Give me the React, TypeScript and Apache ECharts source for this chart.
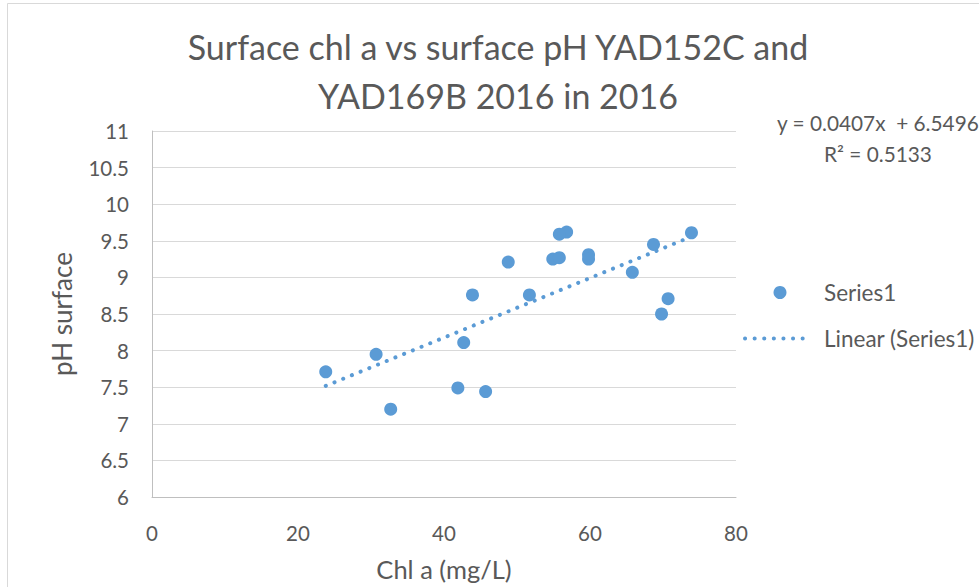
import React, { useEffect, useRef } from "react";
import * as echarts from "echarts";

// Surface chlorophyll a (mg/L) and surface pH
const chlA = [56.8, 55.8, 73.9, 68.7, 48.8, 54.9, 55.8, 59.8, 59.8, 65.8, 51.7, 43.9, 70.7, 69.8, 42.7, 41.9, 45.7, 23.8, 30.7, 32.7];
const pH = [9.62, 9.59, 9.61, 9.45, 9.21, 9.25, 9.27, 9.31, 9.25, 9.07, 8.76, 8.76, 8.71, 8.5, 8.11, 7.49, 7.44, 7.71, 7.95, 7.2];

const trendSlope = 0.0407;
const trendIntercept = 6.5496;
const rSquared = "0.5133";

const titleText = "Surface chl a vs surface pH YAD152C and\nYAD169B 2016 in 2016";
const seriesName = "Series1";
const trendName = "Linear (Series1)";

const FONT = "Lato, 'Liberation Sans', sans-serif";
const TXT = "#595959";
const BLUE = "#5b9bd5";

export default function App() {
  const ref = useRef<HTMLDivElement>(null);
  useEffect(() => {
    const chart = echarts.init(ref.current!, null, { renderer: "svg" });
    const points = chlA.map((x, i) => [x, pH[i]]);
    const xMin = Math.min(...chlA);
    const xMax = Math.max(...chlA);
    const trend = [
      [xMin, trendSlope * xMin + trendIntercept],
      [xMax, trendSlope * xMax + trendIntercept],
    ];
    chart.setOption({
      animation: false,
      textStyle: { fontFamily: FONT },
      title: {
        text: titleText,
        left: 498,
        top: 22,
        padding: 0,
        textAlign: "center",
        textStyle: { fontFamily: FONT, fontSize: 34, fontWeight: "normal", color: TXT, lineHeight: 49 },
      },
      grid: { left: 152, right: 243, top: 131, bottom: 90 },
      xAxis: {
        type: "value",
        min: 0,
        max: 80,
        interval: 20,
        name: "Chl a (mg/L)",
        nameLocation: "middle",
        nameGap: 59,
        nameTextStyle: { fontFamily: FONT, fontSize: 25.5, color: TXT },
        axisLine: { show: true, lineStyle: { color: "#bfbfbf", width: 1 } },
        axisTick: { show: false },
        axisLabel: { margin: 25, fontFamily: FONT, fontSize: 20.5, color: TXT },
        splitLine: { show: false },
      },
      yAxis: {
        type: "value",
        min: 6,
        max: 11,
        interval: 0.5,
        name: "pH surface",
        nameLocation: "middle",
        nameGap: 77,
        nameRotate: 90,
        nameTextStyle: { fontFamily: FONT, fontSize: 26, color: TXT },
        axisLine: { show: true, lineStyle: { color: "#bfbfbf", width: 1 } },
        axisTick: { show: false },
        axisLabel: { margin: 23, fontFamily: FONT, fontSize: 20.5, color: TXT },
        splitLine: { show: true, lineStyle: { color: "#d9d9d9", width: 1 } },
      },
      series: [
        {
          name: seriesName,
          type: "scatter",
          data: points,
          symbol: "circle",
          symbolSize: 13,
          itemStyle: { color: BLUE, opacity: 1 },
          z: 3,
        },
        {
          name: trendName,
          type: "line",
          data: trend,
          symbol: "none",
          lineStyle: { color: BLUE, width: 4, type: [0.1, 9.3], cap: "round" },
          z: 2,
        },
      ],
      graphic: [
        {
          type: "rect",
          shape: { x: 7.5, y: 3.5, width: 1000, height: 1000 },
          style: { fill: "none", stroke: "#d9d9d9", lineWidth: 1 },
          silent: true,
        },
        {
          type: "text",
          x: 777,
          y: 122,
          style: {
            text: `y = ${trendSlope}x  + ${trendIntercept}`,
            fontFamily: FONT,
            fontSize: 20.8,
            fill: TXT,
            textAlign: "left",
            textVerticalAlign: "middle",
          },
        },
        {
          type: "text",
          x: 824,
          y: 153,
          style: {
            text: `R² = ${rSquared}`,
            fontFamily: FONT,
            fontSize: 20.8,
            fill: TXT,
            textAlign: "left",
            textVerticalAlign: "middle",
          },
        },
        {
          type: "circle",
          shape: { cx: 780, cy: 292.5, r: 6.5 },
          style: { fill: BLUE },
        },
        {
          type: "text",
          x: 824,
          y: 292,
          style: {
            text: seriesName,
            fontFamily: FONT,
            fontSize: 22.5,
            fill: TXT,
            textAlign: "left",
            textVerticalAlign: "middle",
          },
        },
        {
          type: "line",
          shape: { x1: 745, y1: 338.5, x2: 808, y2: 338.5 },
          style: { stroke: BLUE, lineWidth: 4, lineDash: [0.1, 9.5], lineCap: "round" },
        },
        {
          type: "text",
          x: 824,
          y: 338,
          style: {
            text: trendName,
            fontFamily: FONT,
            fontSize: 22.5,
            fill: TXT,
            textAlign: "left",
            textVerticalAlign: "middle",
          },
        },
      ],
    });
    return () => chart.dispose();
  }, []);
  return (
    <div
      ref={ref}
      style={{ position: "absolute", left: 0, top: 0, width: 979, height: 587, background: "#fff" }}
    />
  );
}
